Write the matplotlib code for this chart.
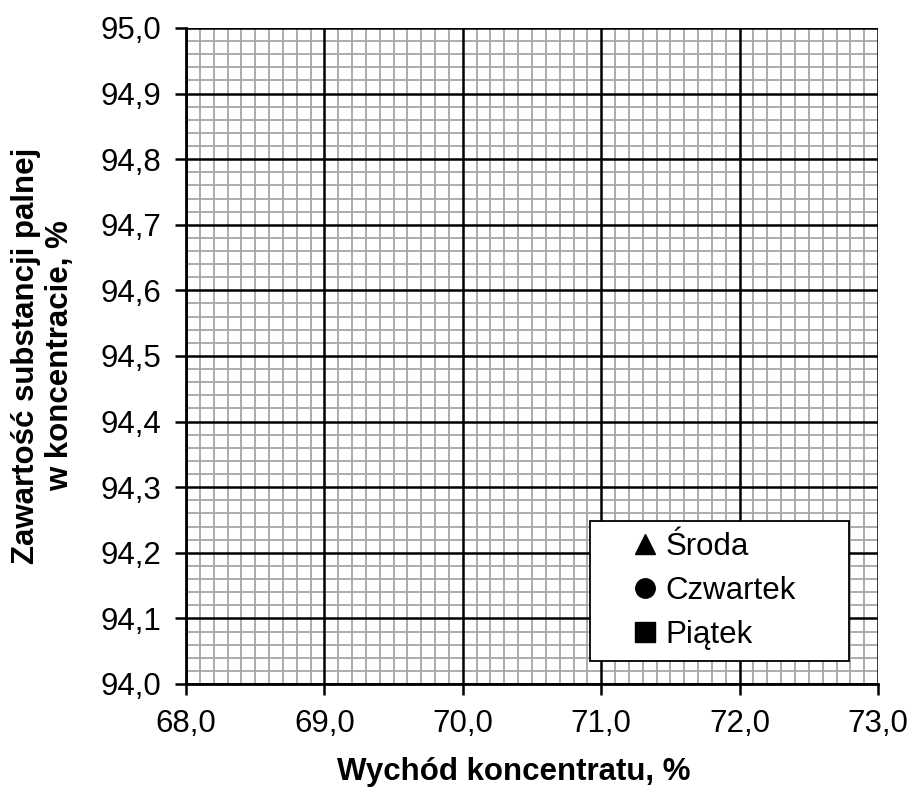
import numpy as np
import matplotlib.pyplot as plt
from matplotlib.ticker import MultipleLocator, FuncFormatter

plt.rcParams['font.family'] = ['Liberation Sans', 'DejaVu Sans']

# series are empty in the reference (blank chart with legend only)
series_names = ['Środa', 'Czwartek', 'Piątek']
series_markers = ['^', 'o', 's']
series_x = [[], [], []]
series_y = [[], [], []]

x_min, x_max = 68.0, 73.0
y_min, y_max = 94.0, 95.0
x_major, x_minor = 1.0, 0.1
y_major, y_minor = 0.1, 0.02

fig = plt.figure(figsize=(9.13, 7.97), dpi=100)
ax = fig.add_axes([0.2037, 0.1418, 0.758, 0.8231])

for name, m, xs, ys in zip(series_names, series_markers, series_x, series_y):
    ax.plot(xs, ys, linestyle='none', marker=m, color='black', markersize=14, label=name)

ax.set_xlim(x_min, x_max)
ax.set_ylim(y_min, y_max)
ax.xaxis.set_major_locator(MultipleLocator(x_major))
ax.xaxis.set_minor_locator(MultipleLocator(x_minor))
ax.yaxis.set_major_locator(MultipleLocator(y_major))
ax.yaxis.set_minor_locator(MultipleLocator(y_minor))

fmt = FuncFormatter(lambda v, p: f"{v:.1f}".replace('.', ','))
ax.xaxis.set_major_formatter(fmt)
ax.yaxis.set_major_formatter(fmt)

# minor grid via axis grid, major grid drawn on top so it stays solid
ax.grid(which='minor', color='#a6a6a6', linewidth=1.3, zorder=0)
for v in ax.get_xticks():
    if x_min <= v <= x_max:
        ax.axvline(v, color='black', linewidth=1.8, zorder=1)
for v in ax.get_yticks():
    if y_min <= v <= y_max:
        ax.axhline(v, color='black', linewidth=1.8, zorder=1)
ax.set_axisbelow(True)

ax.tick_params(which='major', direction='out', length=8, width=1.8, labelsize=22.5, pad=10)
ax.tick_params(which='minor', length=0)
for s in ['top', 'right']:
    ax.spines[s].set_visible(False)
for s in ['left', 'bottom']:
    ax.spines[s].set_linewidth(2)
    ax.spines[s].set_zorder(3)

ax.set_xlabel('Wychód koncentratu, %', fontsize=22.5, fontweight='bold')
ax.xaxis.set_label_coords(0.473, -0.112)
ax.set_ylabel('Zawartość substancji palnej\nw koncentracie, %', fontsize=22.5,
              fontweight='bold', labelpad=18)

leg = ax.legend(loc='lower left', bbox_to_anchor=(0.584, 0.035, 0.374, 0.22),
                mode='expand', fontsize=22.5,
                frameon=True, fancybox=False, edgecolor='black', framealpha=1,
                handlelength=2.8, handletextpad=-0.75, labelspacing=0.45,
                borderpad=0.35, borderaxespad=0)
leg.get_frame().set_linewidth(1.3)
leg.set_zorder(5)
for h in leg.legend_handles:
    h.set_markersize(14)

fig.savefig('out.png', dpi=100)
